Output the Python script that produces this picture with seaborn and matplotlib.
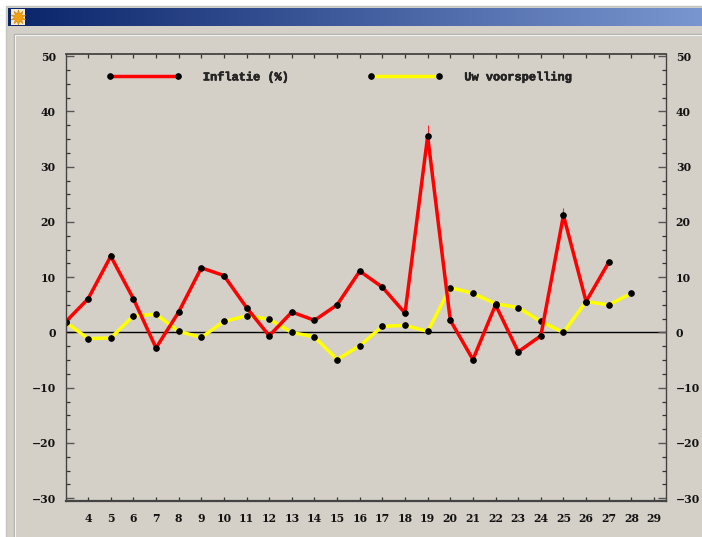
import numpy as np
import pandas as pd
import seaborn as sns
import matplotlib
matplotlib.use('Agg')
import matplotlib.pyplot as plt
import matplotlib.patheffects as pe
from matplotlib.patches import Rectangle

# values
maanden = list(range(3, 29))
inflatie = [1.9, 6.1, 13.8, 6.1, -2.8, 3.7, 11.7, 10.3, 4.5, -0.6, 3.7, 2.2, 5.0,
            11.1, 8.2, 3.5, 35.5, 2.2, -4.9, 5.0, -3.5, -0.6, 21.2, 5.6, 12.7, np.nan]
voorspelling = [1.9, -1.1, -1.0, 3.0, 3.3, 0.2, -0.9, 2.0, 3.0, 2.4, 0.0, -0.8, -4.9,
                -2.4, 1.1, 1.3, 0.2, 8.1, 7.1, 5.2, 4.5, 2.0, 0.0, 5.6, 5.0, 7.1]
# thin spikes the line join leaves above the two sharpest peaks
piek_maand = [19, 25]
piek_top = [37.5, 22.5]
piek_voet = [35.5, 21.2]
x_ticks = list(range(4, 30))
y_ticks = [-30, -20, -10, 0, 10, 20, 30, 40, 50]

W, H = 702, 537
PANEL = '#d4d0c8'
FONT = 'Liberation Mono'
TICKFONT = 'DejaVu Serif'

sns.set_style('white')
plt.rcParams['font.family'] = [TICKFONT, 'DejaVu Sans']
plt.rcParams['font.weight'] = 'bold'

df = pd.DataFrame({'maand': maanden, 'inflatie': inflatie, 'voorspelling': voorspelling})

fig = plt.figure(figsize=(W / 100, H / 100), dpi=100, facecolor='white')

# window chrome behind the chart, in pixel coordinates
bg = fig.add_axes([0, 0, 1, 1], zorder=0)
bg.axis('off')
bg.add_patch(Rectangle((5.5, 5.5), W, H, fc=PANEL, ec='#c4c4c0', lw=1))
bg.add_patch(Rectangle((13.5, 33.5), W, H, fc=PANEL, ec='#b0b0ac', lw=1))
bg.plot([15, 15], [34.5, H], color='#f4f4f0', lw=0.8)
bg.plot([15, W], [34.5, 34.5], color='#f4f4f0', lw=0.8)
grad = np.linspace(0, 1, 256)[None, :, None]
c0 = np.array([10, 36, 106]) / 255
c1 = np.array([122, 150, 208]) / 255
bg.imshow(c0 + grad * (c1 - c0), extent=(8, W, 26, 8), aspect='auto', zorder=2)
bg.add_patch(Rectangle((11, 9), 14, 16, fc='#f2ecd8', ec='none', zorder=3))
bg.plot([18], [16.5], marker=(10, 1, 0), ms=11, color='#f0a010', mec='#d08008', mew=0.4, zorder=4)
bg.set_xlim(0, W)
bg.set_ylim(H, 0)

# plot area
left, right, top, bottom = 65.5, 666, 54, 501
ax = fig.add_axes([left / W, 1 - bottom / H, (right - left) / W, (bottom - top) / H], zorder=1)
ax.set_facecolor(PANEL)

line_kw = dict(marker='o', markersize=4.0, markerfacecolor='black', markeredgecolor='black',
               linewidth=2.5, solid_joinstyle='miter', solid_capstyle='butt')
ax.axhline(0, color='black', lw=1, zorder=1)
sns.lineplot(data=df, x='maand', y='voorspelling', color='#ffff00', label='Uw voorspelling',
             ax=ax, **line_kw)
sns.lineplot(data=df, x='maand', y='inflatie', color='#ff0000', label='Inflatie (%)',
             ax=ax, **line_kw)
ax.vlines(piek_maand, piek_voet, piek_top, color='#ff2020', lw=0.8, zorder=1.5)

ax.set_xlim(3, 29.53)
ax.set_ylim(-30.5, 50.4)
ax.set_xlabel('')
ax.set_ylabel('')
ax.set_xticks(x_ticks)
ax.set_yticks(y_ticks)
ax.set_yticks(np.arange(-30, 50.1, 2.5), minor=True)
ax.tick_params(axis='x', which='major', direction='in', length=3.2, width=0.9, color='#333333',
               top=True, bottom=True, pad=9, labelsize=7.8, labelcolor='#111111')
ax.tick_params(axis='y', which='major', direction='in', length=5.5, width=1, color='#555555',
               left=True, right=False, pad=7, labelsize=7.8, labelcolor='#111111')
ax.tick_params(axis='y', which='minor', direction='in', length=2.8, width=0.9, color='#333333',
               left=True, right=False)
for side, w in zip(['left', 'right', 'top', 'bottom'], [1, 1, 1.3, 1.6]):
    ax.spines[side].set_visible(True)
    ax.spines[side].set_color('#444444')
    ax.spines[side].set_linewidth(w)

# same scale repeated on the right
ax2 = ax.twinx()
ax2.set_ylim(ax.get_ylim())
ax2.set_yticks(y_ticks)
ax2.set_yticks(np.arange(-30, 50.1, 2.5), minor=True)
ax2.tick_params(axis='y', which='major', direction='in', length=5.5, width=1, color='#555555',
                pad=7, labelsize=7.8, labelcolor='#111111')
ax2.tick_params(axis='y', which='minor', direction='in', length=2.8, width=0.9, color='#333333')
ax2.grid(False)
for side in ['left', 'right', 'top', 'bottom']:
    ax2.spines[side].set_visible(False)

# legend, red first
handles, labels = ax.get_legend_handles_labels()
leg = ax.legend(handles[::-1], labels[::-1], ncol=2, loc='upper left',
                bbox_to_anchor=((104 - left) / (right - left), 1 - (69 - top) / (bottom - top)),
                numpoints=2, frameon=False, handlelength=6.28, handletextpad=1.8, columnspacing=6.65,
                borderpad=0.2, borderaxespad=0, prop={'family': FONT, 'weight': 'bold', 'size': 8.6})
for t in leg.get_texts():
    t.set_path_effects([pe.withStroke(linewidth=0.35, foreground='black')])

fig.savefig('out.png', dpi=100)
